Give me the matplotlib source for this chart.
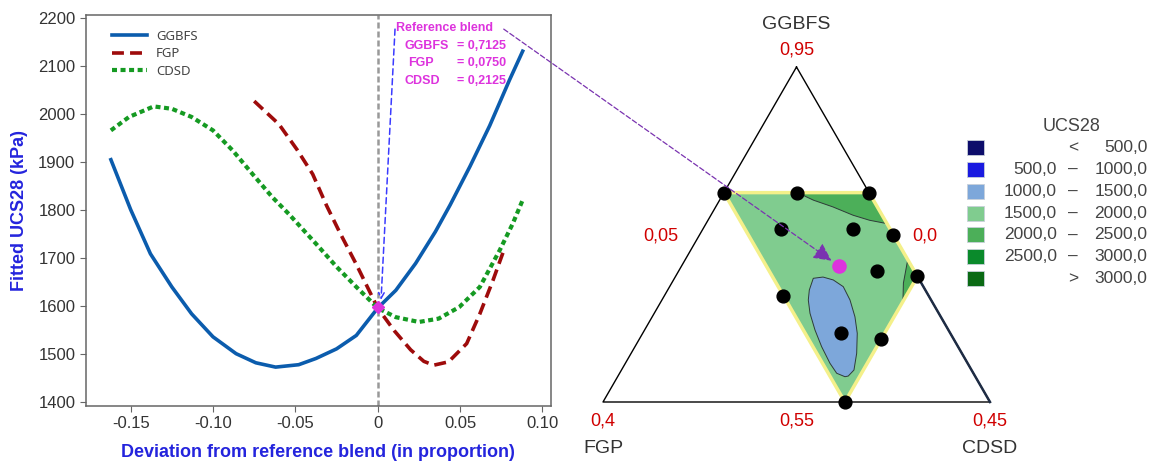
import numpy as np
import matplotlib.pyplot as plt
from matplotlib.patches import ConnectionPatch, Rectangle

plt.rcParams['font.family'] = ['Liberation Sans', 'DejaVu Sans']

# trace plot: deviation from reference blend vs fitted UCS28 (kPa)
ggbfs_dev = [-0.162, -0.150, -0.138, -0.125, -0.113, -0.100, -0.086, -0.074, -0.062, -0.048,
             -0.0375, -0.025, -0.013, 0.0, 0.011, 0.023, 0.035, 0.044, 0.056, 0.068, 0.080, 0.088]
ggbfs_ucs = [1904, 1800, 1708, 1639, 1583, 1535, 1500, 1481, 1472, 1477,
             1490, 1510, 1538, 1595, 1632, 1688, 1754, 1810, 1890, 1975, 2070, 2130]

fgp_dev = [-0.075, -0.060, -0.049, -0.0395, -0.031, -0.023, -0.013, 0.0, 0.010, 0.020,
           0.028, 0.034, 0.043, 0.054, 0.062, 0.070, 0.076]
fgp_ucs = [2026, 1978, 1925, 1874, 1808, 1752, 1686, 1595, 1548, 1508,
           1484, 1476, 1483, 1521, 1583, 1653, 1710]

cdsd_dev = [-0.162, -0.151, -0.136, -0.125, -0.113, -0.100, -0.088, -0.076, -0.064, -0.054,
            -0.0375, -0.025, -0.013, 0.0, 0.011, 0.025, 0.037, 0.0495, 0.062, 0.074, 0.082, 0.088]
cdsd_ucs = [1965, 1993, 2015, 2010, 1993, 1965, 1923, 1874, 1826, 1791,
            1729, 1681, 1639, 1595, 1576, 1566, 1573, 1597, 1639, 1715, 1771, 1820]

ref_ggbfs, ref_fgp, ref_cdsd = 0.7125, 0.0750, 0.2125
ref_ucs = 1597

# mixture design points (proportions)
design_ggbfs = [0.80, 0.80, 0.80, 0.757, 0.757, 0.75, 0.70, 0.707, 0.677, 0.632, 0.625, 0.55]
design_fgp = [0.15, 0.075, 0.0, 0.113, 0.038, 0.0, 0.0, 0.038, 0.15, 0.113, 0.075, 0.15]
design_cdsd = [0.05, 0.125, 0.20, 0.130, 0.205, 0.25, 0.30, 0.255, 0.173, 0.255, 0.30, 0.30]

# constrained region and contour bands (GGBFS, CDSD)
region_ggbfs = [0.80, 0.80, 0.70, 0.55]
region_cdsd = [0.05, 0.20, 0.30, 0.30]
band_low_ggbfs = [0.6992, 0.6957, 0.6877, 0.6718, 0.6518, 0.632, 0.6082, 0.5882, 0.581,
                  0.5802, 0.5843, 0.5962, 0.616, 0.636, 0.6559, 0.6718, 0.6837, 0.6977]
band_low_cdsd = [0.2028, 0.2152, 0.2295, 0.2444, 0.2595, 0.2718, 0.2831, 0.2903, 0.288,
                 0.285, 0.2744, 0.2615, 0.243, 0.2261, 0.211, 0.2013, 0.1964, 0.1935]
band_top_ggbfs = [0.80, 0.791, 0.783, 0.773, 0.767, 0.763, 0.80]
band_top_cdsd = [0.126, 0.147, 0.171, 0.197, 0.217, 0.237, 0.20]
band_side_ggbfs = [0.72, 0.692, 0.67, 0.70]
band_side_cdsd = [0.28, 0.2895, 0.30, 0.30]

ucs_colors = ['#0D0D6B', '#1A1AE0', '#7DA7DA', '#80CC8F', '#4CAF59', '#0A8A2B', '#0A6A14']
ucs_low = ['', '500,0', '1000,0', '1500,0', '2000,0', '2500,0', '']
ucs_sign = ['<', '–', '–', '–', '–', '–', '>']
ucs_high = ['500,0', '1000,0', '1500,0', '2000,0', '2500,0', '3000,0', '3000,0']


def tern(g, c):
    g = (np.asarray(g, dtype=float) - 0.55) / 0.4
    c = (np.asarray(c, dtype=float) - 0.05) / 0.4
    return c + g / 2, g * np.sqrt(3) / 2


fig = plt.figure(figsize=(11.54, 4.62), dpi=100)

# ---- left: trace plot
ax = fig.add_axes([85.7 / 1154, 56 / 462, 465.3 / 1154, 391.3 / 462])
ax.plot(ggbfs_dev, ggbfs_ucs, color='#0B5CAD', lw=2.6, label='GGBFS')
ax.plot(fgp_dev, fgp_ucs, color='#9E0B0B', lw=2.6, ls=(0, (3.3, 1.7)), label='FGP')
ax.plot(cdsd_dev, cdsd_ucs, color='#159A22', lw=3, ls=(0, (1.2, 0.85)), label='CDSD')
ax.axvline(0, color='#999999', lw=1.8, ls=(0, (2.4, 1.2)), zorder=1)
ax.plot(0, ref_ucs, 'D', color='#DD33DD', ms=6, zorder=6)

ax.set_xlim(-0.1773, 0.1052)
ax.set_ylim(1391, 2206)
ax.set_xticks([-0.15, -0.10, -0.05, 0, 0.05, 0.10])
ax.set_xticklabels(['-0.15', '-0.10', '-0.05', '0', '0.05', '0.10'])
ax.set_yticks(np.arange(1400, 2201, 100))
ax.tick_params(direction='out', length=4, color='#666666', labelcolor='#333333', labelsize=12)
for s in ax.spines.values():
    s.set_color('#666666')
    s.set_linewidth(1.1)
ax.set_xlabel('Deviation from reference blend (in proportion)', color='#2424DD',
              fontsize=13, fontweight='bold', labelpad=9)
ax.set_ylabel('Fitted UCS28 (kPa)', color='#2424DD', fontsize=13, fontweight='bold', labelpad=7)

leg = ax.legend(loc='upper left', bbox_to_anchor=(0.057, 0.962), frameon=False, borderpad=0,
                borderaxespad=0, handlelength=2.65, handletextpad=0.65, labelspacing=0.35,
                prop={'family': 'Noto Sans', 'size': 9.5})
for t in leg.get_texts():
    t.set_color('#444444')

mag = '#DD33DD'
ax.text(0.0111, 2178, 'Reference blend', color=mag, fontsize=9, fontweight='bold', va='center')
for yy, name, val, xx in [(2140, 'GGBFS', ref_ggbfs, 0.016), (2105, 'FGP', ref_fgp, 0.0184),
                          (2067, 'CDSD', ref_cdsd, 0.016)]:
    ax.text(xx, yy, name, color=mag, fontsize=9, fontweight='bold', va='center')
    ax.text(0.0779, yy, '= ' + f'{val:.4f}'.replace('.', ','), color=mag, fontsize=9,
            fontweight='bold', va='center', ha='right')
ax.annotate('', xy=(0.002, 1612), xytext=(0.0105, 2176),
            arrowprops=dict(arrowstyle='->', color='#3B3BFF', lw=1.1, ls=(0, (4, 2.5)),
                            shrinkA=0, shrinkB=0))

# ---- right: ternary plot
axt = fig.add_axes([603 / 1154, 60 / 462, 387 / 1154, 335 / 462])
axt.set_xlim(0, 1)
axt.set_ylim(0, np.sqrt(3) / 2)
axt.axis('off')

tx, ty = tern([0.95, 0.55, 0.55, 0.95], [0.05, 0.05, 0.45, 0.05])
axt.plot(tx, ty, color='black', lw=1.0, clip_on=False, zorder=1)
ex, ey = tern([0.70, 0.55], [0.30, 0.45])
axt.plot(ex, ey, color='#1E2C44', lw=1.8, clip_on=False, zorder=1)

rx, ry = tern(region_ggbfs, region_cdsd)
axt.fill(rx, ry, color='#80CC8F', lw=0, zorder=2)
for g, c, col in [(band_low_ggbfs, band_low_cdsd, '#7DA7DA'),
                  (band_top_ggbfs, band_top_cdsd, '#4CAF59'),
                  (band_side_ggbfs, band_side_cdsd, '#4CAF59')]:
    bx, by = tern(g, c)
    axt.fill(bx, by, facecolor=col, edgecolor='#2E3B38', lw=0.7, zorder=3)
axt.fill(rx, ry, facecolor='none', edgecolor='#F4F08A', lw=2.5, zorder=4, clip_on=False)

dx, dy = tern(design_ggbfs, design_cdsd)
axt.scatter(dx, dy, s=85, color='black', zorder=6, clip_on=False)
px, py = tern(ref_ggbfs, ref_cdsd)
axt.scatter([px], [py], s=90, color=mag, zorder=7)

red = '#D00000'
axt.text(0.5, 0.977, 'GGBFS', ha='center', va='center', fontsize=14, color='#333333')
axt.text(0.5, 0.9096, '0,95', ha='center', va='center', fontsize=13, color=red)
axt.text(0.15, 0.429, '0,05', ha='center', va='center', fontsize=13, color=red)
axt.text(0.831, 0.429, '0,0', ha='center', va='center', fontsize=13, color=red)
axt.text(0.0, -0.049, '0,4', ha='center', va='center', fontsize=13, color=red)
axt.text(0.5, -0.049, '0,55', ha='center', va='center', fontsize=13, color=red)
axt.text(1.0, -0.049, '0,45', ha='center', va='center', fontsize=13, color=red)
axt.text(0.0, -0.121, 'FGP', ha='center', va='center', fontsize=14, color='#333333')
axt.text(1.0, -0.121, 'CDSD', ha='center', va='center', fontsize=14, color='#333333')

con = ConnectionPatch(xyA=(0.0765, 2176), coordsA=ax.transData, xyB=(px, py),
                      coordsB=axt.transData, arrowstyle='-|>', color='#7A33B0', lw=0.9,
                      ls=(0, (4, 2)), mutation_scale=27, shrinkB=6.5, zorder=8)
fig.add_artist(con)

# ---- UCS28 legend
axl = fig.add_axes([960 / 1154, (462 - 290) / 462, 194 / 1154, 175 / 462])
axl.set_xlim(0, 194)
axl.set_ylim(175, 0)
axl.axis('off')
axl.text(112, 11.7, 'UCS28', ha='center', va='center', fontsize=13, color='#444444')
for i, col in enumerate(ucs_colors):
    yc = 32.7 + i * 21.8
    axl.add_patch(Rectangle((7.3, yc - 7.5), 17, 15, facecolor=col, edgecolor='#C8D0DA', lw=0.6))
    axl.text(96.7, yc, ucs_low[i], ha='right', va='center', fontsize=12.5, color='#444444')
    axl.text(113.3, yc, ucs_sign[i], ha='center', va='center', fontsize=12.5, color='#444444')
    axl.text(187.3, yc, ucs_high[i], ha='right', va='center', fontsize=12.5, color='#444444')

fig.savefig('out.png', dpi=100)
